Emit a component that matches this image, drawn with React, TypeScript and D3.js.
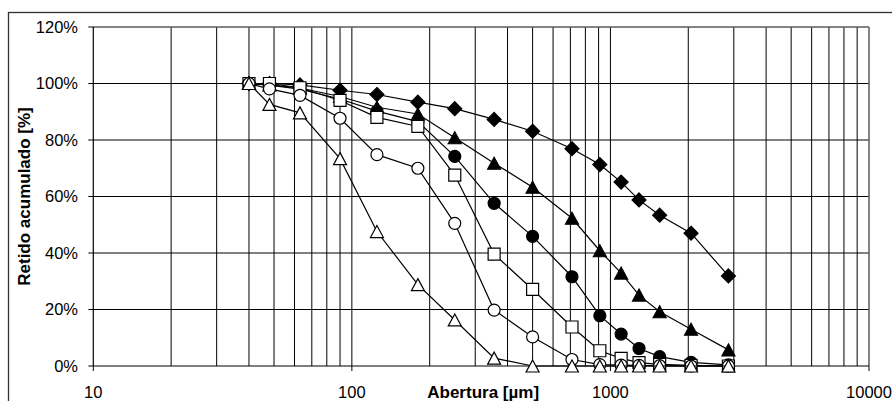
import React from "react";
import * as d3 from "d3";

const aberturas = [40, 48, 63, 90, 125, 180, 250, 355, 500, 710, 910, 1100, 1290, 1550, 2050, 2860];
const serieDiamante = [100, 100, 99.5, 97.6, 96.1, 93.4, 91.1, 87.3, 83.1, 76.9, 71.3, 65.1, 58.8, 53.4, 47.0, 31.9];
const serieTrianguloLleno = [100, 99.5, 98.4, 95.4, 91.6, 89.2, 80.8, 71.8, 63.3, 52.3, 40.8, 32.9, 25.1, 19.2, 13.0, 5.7];
const serieCirculoLleno = [100, 99.4, 98.0, 94.5, 90.2, 86.5, 74.2, 57.6, 45.9, 31.6, 17.8, 11.3, 6.2, 3.3, 1.3, 0.4];
const serieCuadradoAbierto = [100, 100, 98.5, 94.0, 88.0, 84.8, 67.6, 39.6, 27.1, 13.8, 5.4, 2.7, 1.2, 0.6, 0.2, 0];
const serieCirculoAbierto = [100, 98.1, 95.8, 87.7, 74.8, 70.0, 50.5, 19.8, 10.3, 2.3, 0.5, 0.3, 0.2, 0.1, 0, 0];
const serieTrianguloAbierto = [100, 92.6, 89.6, 73.4, 47.6, 28.8, 16.3, 2.8, 0, 0, 0, 0, 0, 0, 0, 0];

const series = [
  { name: "diamante", values: serieDiamante, shape: "diamond", fill: "#000" },
  { name: "trianguloLleno", values: serieTrianguloLleno, shape: "triangle", fill: "#000" },
  { name: "circuloLleno", values: serieCirculoLleno, shape: "circle", fill: "#000" },
  { name: "cuadradoAbierto", values: serieCuadradoAbierto, shape: "square", fill: "#fff" },
  { name: "circuloAbierto", values: serieCirculoAbierto, shape: "circle", fill: "#fff" },
  { name: "trianguloAbierto", values: serieTrianguloAbierto, shape: "triangle", fill: "#fff" },
];

const yTicks = [0, 20, 40, 60, 80, 100, 120];
const xTicks = [10, 100, 1000, 10000];

function markerPath(shape: string): string {
  switch (shape) {
    case "diamond":
      return "M0,-7L7,0L0,7L-7,0Z";
    case "triangle":
      return "M0,-6L6.5,6L-6.5,6Z";
    case "square":
      return "M-6,-6H6V6H-6Z";
    default: {
      const r = 6;
      return `M${r},0A${r},${r},0,1,1,${-r},0A${r},${r},0,1,1,${r},0Z`;
    }
  }
}

export default function App() {
  const W = 892;
  const H = 401;
  const left = 93.3;
  const right = 869;
  const top = 27;
  const bottom = 366;

  const x = d3.scaleLog().domain([10, 10000]).range([left, right]);
  const y = d3.scaleLinear().domain([0, 120]).range([bottom, top]);

  const minor: number[] = [];
  [10, 100, 1000].forEach((d) => {
    for (let k = 1; k <= 9; k++) minor.push(d * k);
  });
  minor.push(10000);

  const line = d3
    .line<[number, number]>()
    .x((d) => x(d[0]))
    .y((d) => y(d[1]));

  const font = "'Liberation Sans', Arial, sans-serif";

  return (
    <svg
      width={W}
      height={H}
      style={{ position: "absolute", left: 0, top: 0, background: "#fff" }}
      fontFamily={font}
    >
      <rect x={0} y={0} width={W} height={H} fill="#fff" />
      <rect x={8.5} y={12.5} width={1000} height={600} fill="none" stroke="#333" strokeWidth={1.3} />

      {/* vertical gridlines */}
      {minor
        .filter((v) => v > 10)
        .map((v, i) => (
          <line key={"vx" + i} x1={x(v)} x2={x(v)} y1={top} y2={bottom} stroke="#000" strokeWidth={1} />
        ))}
      {/* horizontal gridlines */}
      {yTicks
        .filter((v) => v > 0)
        .map((v, i) => (
          <line key={"hy" + i} x1={left} x2={right} y1={y(v)} y2={y(v)} stroke="#000" strokeWidth={1} />
        ))}
      <line x1={right} x2={right} y1={top} y2={bottom} stroke="#888" strokeWidth={1} />
      <line x1={left} x2={right} y1={top} y2={top} stroke="#888" strokeWidth={1} />

      {/* axes */}
      <line x1={left} x2={left} y1={top} y2={bottom} stroke="#000" strokeWidth={1.2} />
      <line x1={left} x2={right} y1={bottom} y2={bottom} stroke="#000" strokeWidth={1.2} />
      {yTicks.map((v, i) => (
        <g key={"yt" + i}>
          <line x1={left - 5} x2={left} y1={y(v)} y2={y(v)} stroke="#000" strokeWidth={1} />
          <text x={78} y={y(v)} dy="0.36em" textAnchor="end" fontSize={16.5} fill="#000">
            {v + "%"}
          </text>
        </g>
      ))}
      {xTicks.map((v, i) => (
        <g key={"xt" + i}>
          <line x1={x(v)} x2={x(v)} y1={bottom} y2={bottom + 5} stroke="#000" strokeWidth={1} />
          <text x={x(v)} y={398} textAnchor="middle" fontSize={16.5} fill="#000">
            {String(v)}
          </text>
        </g>
      ))}

      <text x={(left + right) / 2 + 2} y={398} textAnchor="middle" fontSize={17} fontWeight="bold" fill="#000">
        Abertura [µm]
      </text>
      <text
        transform={`translate(29.5, ${(top + bottom) / 2}) rotate(-90)`}
        textAnchor="middle"
        fontSize={17}
        fontWeight="bold"
        fill="#000"
      >
        Retido acumulado [%]
      </text>

      {/* series */}
      {series.map((s) => {
        const pts = aberturas.map((a, i) => [a, s.values[i]] as [number, number]);
        return (
          <g key={s.name}>
            <path d={line(pts) || ""} fill="none" stroke="#000" strokeWidth={1.2} />
            {pts.map((p, i) => (
              <path
                key={i}
                d={markerPath(s.shape)}
                transform={`translate(${x(p[0])},${y(p[1])})`}
                fill={s.fill}
                stroke="#000"
                strokeWidth={1.2}
              />
            ))}
          </g>
        );
      })}
    </svg>
  );
}
